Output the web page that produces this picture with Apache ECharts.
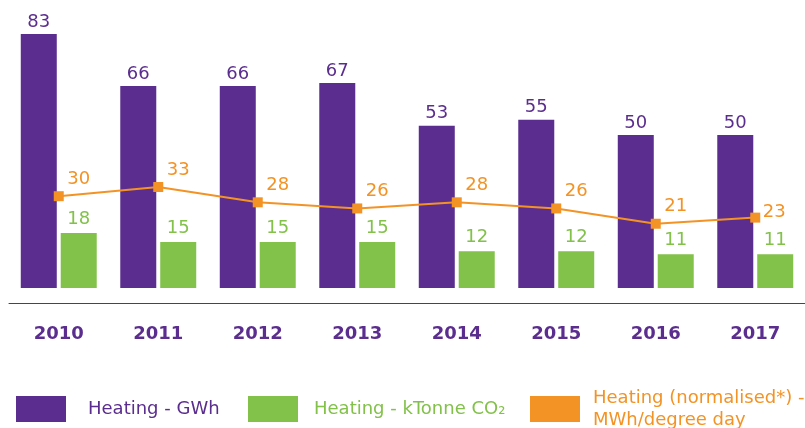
<!DOCTYPE html>
<html><head><meta charset="utf-8">
<script src="https://cdn.jsdelivr.net/npm/echarts@6/dist/echarts.min.js"></script>
<style>html,body{margin:0;padding:0;background:#fff}#c{width:805px;height:428px}</style>
</head><body><div id="c"></div>
<script>
const years = ['2010','2011','2012','2013','2014','2015','2016','2017'];
const heatingGWh = [83,66,66,67,53,55,50,50];
const heatingCO2 = [18,15,15,15,12,12,11,11];
const heatingNorm = [30,33,28,26,28,26,21,23];
const names = ['Heating - GWh','Heating - kTonne CO₂','Heating (normalised*) -\nMWh/degree day'];

const PURPLE='#5b2d8e', GREEN='#82c14a', ORANGE='#f39325';
const FONT='DejaVu Sans';
const chart = echarts.init(document.getElementById('c'));
chart.setOption({
  animation:false,
  grid:{left:9,right:-4,top:12.6,bottom:140},
  xAxis:{type:'category',data:years,offset:15,
    axisLine:{onZero:false,lineStyle:{color:PURPLE,width:1}},axisTick:{show:false},
    axisLabel:{color:PURPLE,fontFamily:FONT,fontWeight:'bold',fontSize:18,margin:22}},
  yAxis:{type:'value',min:0,max:90,show:false,splitLine:{show:false}},
  legend:[
    {left:16,top:396,padding:0,itemWidth:50,itemHeight:26,icon:'rect',
     textStyle:{fontFamily:FONT,fontSize:18,color:PURPLE,padding:[4,0,0,17]},
     data:[{name:names[0]}]},
    {left:248,top:396,padding:0,itemWidth:50,itemHeight:26,icon:'rect',
     textStyle:{fontFamily:FONT,fontSize:18,color:GREEN,padding:[4,0,0,11]},
     data:[{name:names[1]}]},
    {left:530,top:384,padding:0,itemWidth:50,itemHeight:26,icon:'rect',
     textStyle:{fontFamily:FONT,fontSize:18,color:ORANGE,lineHeight:22,padding:[0,0,6,8]},
     data:[{name:names[2]}]}
  ],
  series:[
    {name:names[0],type:'bar',data:heatingGWh,barWidth:36,barGap:'11%',
     itemStyle:{color:PURPLE},
     label:{show:true,position:'top',distance:3,color:PURPLE,fontFamily:FONT,fontSize:18}},
    {name:names[1],type:'bar',data:heatingCO2,barWidth:36,
     itemStyle:{color:GREEN},
     label:{show:true,position:'top',distance:5,color:GREEN,fontFamily:FONT,fontSize:18}},
    {name:names[2],type:'line',z:5,
     data:heatingNorm.map((v,i)=> i===heatingNorm.length-1 ? {value:v,label:{offset:[19,-5]}} : v),
     symbol:'rect',symbolSize:10,
     lineStyle:{color:ORANGE,width:2},itemStyle:{color:ORANGE},
     label:{show:true,position:'inside',offset:[20,-17],color:ORANGE,fontFamily:FONT,fontSize:18}}
  ]
});
</script></body></html>
